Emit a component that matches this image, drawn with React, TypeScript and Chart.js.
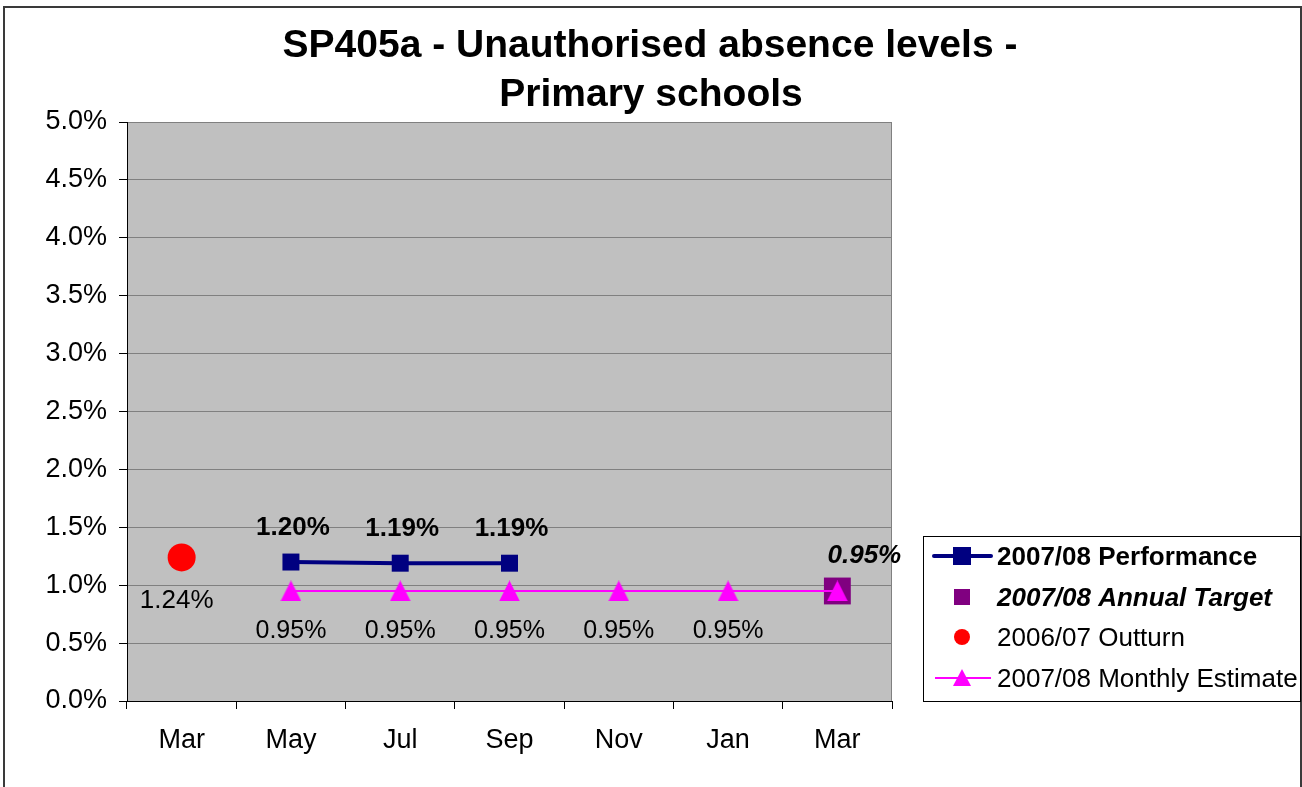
import React, { useEffect, useRef } from 'react';
import { Chart, registerables } from 'chart.js';

Chart.register(...registerables);

// ---- Data ----
const categories = ['Mar', 'May', 'Jul', 'Sep', 'Nov', 'Jan', 'Mar'];
const performance = [null, 1.2, 1.19, 1.19, null, null, null];
const annualTarget = [null, null, null, null, null, null, 0.95];
const outturn = [1.24, null, null, null, null, null, null];
const monthlyEstimate = [null, 0.95, 0.95, 0.95, 0.95, 0.95, 0.95];
const estimateLabelShown = [false, true, true, true, true, true, false];
const yMin = 0;
const yMax = 5;
const yStep = 0.5;
const titleLines = ['SP405a - Unauthorised absence levels -', 'Primary schools'];
const seriesNames = [
  '2007/08 Performance',
  '2007/08 Annual Target',
  '2006/07 Outturn',
  '2007/08 Monthly Estimate',
];

// ---- Styles ----
const FONT = '"Liberation Sans", Arial, Helvetica, sans-serif';
const NAVY = '#000080';
const PURPLE = '#800080';
const RED = '#FF0000';
const MAGENTA = '#FF00FF';
const PLOT_BG = '#C0C0C0';
const GRID = '#808080';

function makeTriangle(w: number, h: number, color: string) {
  const c = document.createElement('canvas');
  c.width = w;
  c.height = h;
  const ctx = c.getContext('2d')!;
  ctx.fillStyle = color;
  ctx.beginPath();
  ctx.moveTo(w / 2, 0);
  ctx.lineTo(w, h);
  ctx.lineTo(0, h);
  ctx.closePath();
  ctx.fill();
  return c;
}

const fmtPct = (v: number) => v.toFixed(2) + '%';

const labelStyles: Record<number, { font: string; dx: number; dy: number; show?: boolean[] }> = {
  0: { font: `bold 26px ${FONT}`, dx: 2, dy: -27 },
  1: { font: `italic bold 26px ${FONT}`, dx: 27, dy: -28 },
  2: { font: `26px ${FONT}`, dx: -5, dy: 51 },
  3: { font: `25px ${FONT}`, dx: 0, dy: 47, show: estimateLabelShown },
};

const customPlugin = {
  id: 'customDecor',
  beforeDraw(chart: any) {
    const { ctx, chartArea: a } = chart;
    ctx.save();
    ctx.fillStyle = '#ffffff';
    ctx.fillRect(0, 0, chart.width, chart.height);
    ctx.fillStyle = PLOT_BG;
    ctx.fillRect(a.left, a.top, a.right - a.left, a.bottom - a.top);
    ctx.restore();
  },
  beforeDatasetsDraw(chart: any) {
    const { ctx, chartArea: a } = chart;
    ctx.save();
    ctx.strokeStyle = GRID;
    ctx.lineWidth = 1;
    ctx.beginPath();
    ctx.moveTo(Math.round(a.right) - 0.5, a.top);
    ctx.lineTo(Math.round(a.right) - 0.5, a.bottom);
    ctx.stroke();
    ctx.restore();
  },
  afterDatasetsDraw(chart: any) {
    const { ctx } = chart;
    ctx.save();
    ctx.fillStyle = '#000';
    ctx.textAlign = 'center';
    ctx.textBaseline = 'alphabetic';
    chart.data.datasets.forEach((ds: any, di: number) => {
      const st = labelStyles[di];
      if (!st) return;
      const meta = chart.getDatasetMeta(di);
      ctx.font = st.font;
      meta.data.forEach((pt: any, i: number) => {
        const v = ds.data[i];
        if (v === null || v === undefined) return;
        if (st.show && !st.show[i]) return;
        ctx.fillText(fmtPct(v), pt.x + st.dx, pt.y + st.dy);
      });
    });
    ctx.restore();
  },
  afterDraw(chart: any) {
    const { ctx } = chart;
    ctx.save();
    // outer border
    ctx.strokeStyle = '#3a3a3a';
    ctx.lineWidth = 2;
    ctx.strokeRect(4, 7, 1297, 800);

    // title
    ctx.fillStyle = '#000';
    ctx.textAlign = 'center';
    ctx.textBaseline = 'alphabetic';
    ctx.font = `bold 39px ${FONT}`;
    ctx.fillText(titleLines[0], 650, 57);
    ctx.fillText(titleLines[1], 651, 106);

    // legend box
    const lx = 923.5, ly = 536.5, lw = 377, lh = 165;
    ctx.fillStyle = '#ffffff';
    ctx.fillRect(lx, ly, lw, lh);
    ctx.strokeStyle = '#000';
    ctx.lineWidth = 1;
    ctx.strokeRect(lx, ly, lw, lh);

    const symX = 962;
    const textX = 997;
    const rows = [556, 597, 637, 678];

    // 1. performance
    ctx.strokeStyle = NAVY;
    ctx.lineWidth = 4;
    ctx.lineCap = 'round';
    ctx.beginPath();
    ctx.moveTo(934, rows[0]);
    ctx.lineTo(991, rows[0]);
    ctx.stroke();
    ctx.lineCap = 'butt';
    ctx.fillStyle = NAVY;
    ctx.fillRect(symX - 9, rows[0] - 9, 18, 18);

    // 2. target
    ctx.fillStyle = PURPLE;
    ctx.fillRect(symX - 8, rows[1] - 8, 16, 16);

    // 3. outturn
    ctx.fillStyle = RED;
    ctx.beginPath();
    ctx.arc(symX, rows[2], 8, 0, Math.PI * 2);
    ctx.fill();

    // 4. estimate
    ctx.strokeStyle = MAGENTA;
    ctx.lineWidth = 2;
    ctx.beginPath();
    ctx.moveTo(935, rows[3]);
    ctx.lineTo(991, rows[3]);
    ctx.stroke();
    ctx.fillStyle = MAGENTA;
    ctx.beginPath();
    ctx.moveTo(symX, rows[3] - 9);
    ctx.lineTo(symX + 9, rows[3] + 8);
    ctx.lineTo(symX - 9, rows[3] + 8);
    ctx.closePath();
    ctx.fill();

    ctx.fillStyle = '#000';
    ctx.textAlign = 'left';
    ctx.textBaseline = 'alphabetic';
    const fonts = [`bold 26px ${FONT}`, `italic bold 26px ${FONT}`, `26px ${FONT}`, `26px ${FONT}`];
    seriesNames.forEach((name, i) => {
      ctx.font = fonts[i];
      ctx.fillText(name, textX, rows[i] + 9);
    });
    ctx.restore();
  },
};

export default function App() {
  const ref = useRef<HTMLCanvasElement>(null);
  useEffect(() => {
    if (!ref.current) return;
    const tri = makeTriangle(21, 21, MAGENTA);
    const chart = new Chart(ref.current, {
      type: 'line',
      data: {
        labels: categories,
        datasets: [
          {
            label: seriesNames[0],
            data: performance,
            borderColor: NAVY,
            backgroundColor: NAVY,
            borderWidth: 4,
            pointStyle: 'rect',
            pointRadius: 12,
            pointBackgroundColor: NAVY,
            pointBorderWidth: 0,
            spanGaps: false,
            order: 1,
          },
          {
            label: seriesNames[1],
            data: annualTarget,
            showLine: false,
            pointStyle: 'rect',
            pointRadius: 19,
            pointBackgroundColor: PURPLE,
            pointBorderColor: PURPLE,
            pointBorderWidth: 0,
            order: 3,
          },
          {
            label: seriesNames[2],
            data: outturn,
            showLine: false,
            pointStyle: 'circle',
            pointRadius: 14,
            pointBackgroundColor: RED,
            pointBorderColor: RED,
            pointBorderWidth: 0,
            order: 2,
          },
          {
            label: seriesNames[3],
            data: monthlyEstimate,
            borderColor: MAGENTA,
            backgroundColor: MAGENTA,
            borderWidth: 2,
            pointStyle: tri as any,
            pointRadius: 11,
            spanGaps: false,
            order: 0,
          },
        ] as any,
      },
      options: {
        responsive: false,
        animation: false,
        events: [],
        layout: { padding: { top: 122, right: 410, left: 0, bottom: 0 } },
        plugins: {
          legend: { display: false },
          title: { display: false },
          tooltip: { enabled: false },
        },
        scales: {
          x: {
            type: 'category',
            offset: true,
            grid: {
              offset: true,
              drawOnChartArea: false,
              drawTicks: true,
              tickLength: 8,
              color: '#000',
            },
            border: { color: '#000', width: 1 },
            ticks: {
              color: '#000',
              font: { family: FONT, size: 27 },
              padding: 15,
              maxRotation: 0,
              autoSkip: false,
            },
            afterFit: (s: any) => {
              s.height = 86;
            },
          },
          y: {
            min: yMin,
            max: yMax,
            grid: {
              color: GRID,
              tickColor: '#000',
              tickLength: 8,
              drawTicks: true,
              lineWidth: 1,
            },
            border: { color: '#000', width: 1 },
            ticks: {
              stepSize: yStep,
              color: '#000',
              font: { family: FONT, size: 27 },
              padding: 12,
              callback: (v: any) => Number(v).toFixed(1) + '%',
            },
            afterFit: (s: any) => {
              s.width = 127;
            },
          },
        },
      } as any,
      plugins: [customPlugin],
    });
    return () => chart.destroy();
  }, []);
  return (
    <div style={{ position: 'absolute', left: 0, top: 0, width: 1302, height: 787, background: '#fff' }}>
      <canvas ref={ref} width={1302} height={787} style={{ display: 'block', width: 1302, height: 787 }} />
    </div>
  );
}
